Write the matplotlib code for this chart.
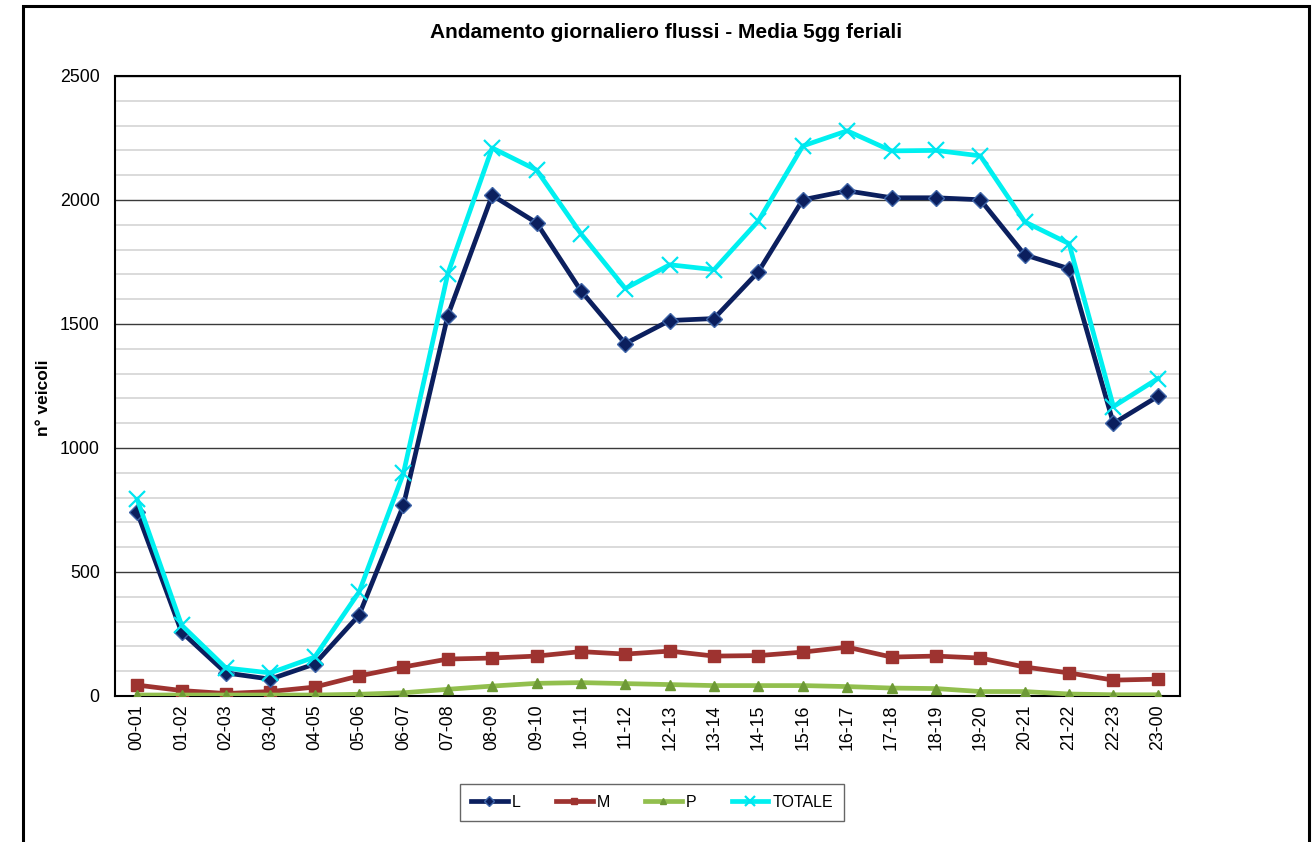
import matplotlib
matplotlib.use("Agg")
import matplotlib.pyplot as plt
from matplotlib.patches import Rectangle
from matplotlib.ticker import MultipleLocator

plt.rcParams['font.family'] = ['Liberation Sans', 'DejaVu Sans']

# Hourly time slots
fasce = ["00-01", "01-02", "02-03", "03-04", "04-05", "05-06", "06-07", "07-08",
         "08-09", "09-10", "10-11", "11-12", "12-13", "13-14", "14-15", "15-16",
         "16-17", "17-18", "18-19", "19-20", "20-21", "21-22", "22-23", "23-00"]

# Vehicle counts per class (average of 5 weekdays)
leggeri = [741, 258, 93, 68, 129, 326, 769, 1534, 2019, 1908, 1634, 1421,
           1514, 1522, 1711, 2001, 2037, 2009, 2009, 2001, 1779, 1723, 1099, 1208]
medi = [44, 22, 10, 18, 36, 81, 117, 149, 153, 161, 179, 169,
        181, 161, 163, 177, 197, 157, 161, 153, 117, 93, 64, 68]
pesanti = [4, 4, 4, 4, 4, 7, 13, 27, 40, 51, 54, 50,
           46, 42, 42, 42, 38, 32, 30, 18, 18, 8, 5, 5]
totale = [793, 286, 113, 93, 157, 419, 898, 1703, 2210, 2121, 1864, 1643,
          1739, 1719, 1916, 2218, 2279, 2198, 2200, 2178, 1912, 1824, 1167, 1280]

W, H = 1316, 842
fig = plt.figure(figsize=(W / 100, H / 100), dpi=100)
fig.patch.set_facecolor("white")

# Outer chart frame
fig.add_artist(Rectangle((23 / W, -0.02), (1309 - 23) / W, 1 - 6 / H + 0.02,
                         transform=fig.transFigure, fill=False,
                         edgecolor="black", linewidth=2.2, clip_on=False))

ax = fig.add_axes([115 / W, 1 - 696 / H, (1180 - 115) / W, (696 - 76) / H])
x = list(range(len(fasce)))

ax.plot(x, leggeri, color="#0B1F5E", linewidth=3.4, marker="D", markersize=8,
        markerfacecolor="#0B1F5E", markeredgecolor="#3E64A8", markeredgewidth=1.0,
        label="L", zorder=4)
ax.plot(x, medi, color="#9E3330", linewidth=3.4, marker="s", markersize=8,
        markerfacecolor="#9E3330", markeredgecolor="#9E3330", label="M", zorder=3)
ax.plot(x, pesanti, color="#92BF4E", linewidth=3.4, marker="^", markersize=7,
        markerfacecolor="#6E9A36", markeredgecolor="#6E9A36", label="P", zorder=3)
ax.plot(x, totale, color="#00F0F0", linewidth=3.4, marker="x", markersize=11,
        markeredgewidth=1.6, markeredgecolor="#00E5F0", label="TOTALE", zorder=5)

ax.set_xlim(-0.5, len(fasce) - 0.5)
ax.set_ylim(0, 2500)
ax.set_xticks(x)
ax.set_xticklabels(fasce, rotation=90, fontsize=12.8)
ax.yaxis.set_major_locator(MultipleLocator(500))
ax.yaxis.set_minor_locator(MultipleLocator(100))
ax.tick_params(axis="y", labelsize=12.8, length=0, pad=11, which="both")
ax.tick_params(axis="x", length=0, pad=6)

ax.grid(True, which="minor", axis="y", color="#D4D4D4", linewidth=1.2, zorder=0)
ax.grid(True, which="major", axis="y", color="#3A3A3A", linewidth=1.0, zorder=0)
ax.set_axisbelow(True)
for s in ax.spines.values():
    s.set_color("black")
    s.set_linewidth(1.5)

fig.text(44 / W, 1 - 398 / H, "n° veicoli", rotation=90, ha="center", va="center",
         fontsize=12.5, fontweight="bold")

fig.text(666.5 / W, 1 - 33 / H, "Andamento giornaliero flussi - Media 5gg feriali",
         ha="center", va="center", fontsize=15, fontweight="bold")

leg = fig.legend(loc="center", bbox_to_anchor=(652 / W, 1 - 802.5 / H), ncol=4,
                 frameon=True, fancybox=False, fontsize=11.5, handlelength=2.3,
                 handletextpad=0.25, columnspacing=2.2, markerscale=0.6,
                 borderpad=0.7)
leg.get_frame().set_edgecolor("#404040")
leg.get_frame().set_linewidth(1.0)

fig.savefig("out.png", dpi=100, facecolor="white")
